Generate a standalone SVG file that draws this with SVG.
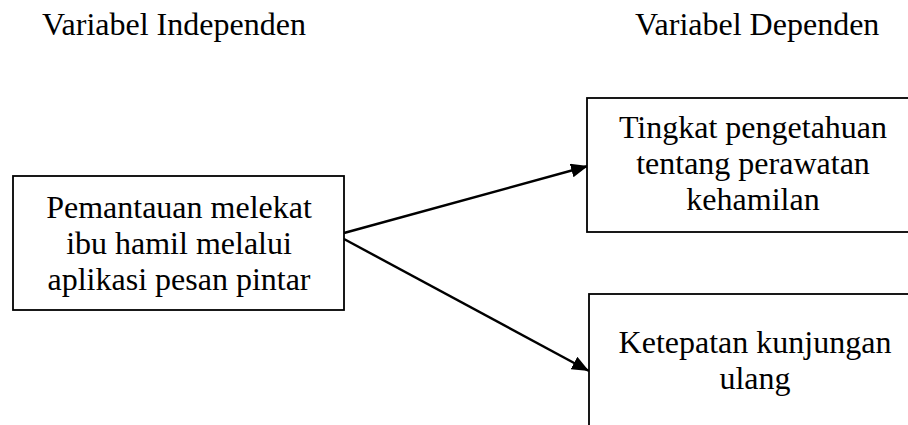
<svg xmlns="http://www.w3.org/2000/svg" width="908" height="425" viewBox="0 0 908 425">
  <style>
    text { font-family: 'Liberation Serif', 'Times New Roman', Times, 'DejaVu Serif', serif; font-size: 32px; fill: #000; }
    .c { text-anchor: middle; }
    .box { fill: #fff; stroke: #000; stroke-width: 1.8; }
    .edge { stroke: #000; stroke-width: 2.4; fill: none; }
  </style>
  <defs>
    <marker id="arrow" markerUnits="userSpaceOnUse" markerWidth="18" markerHeight="14" refX="17" refY="7" orient="auto">
      <path d="M0,0 L17,7 L0,14 z" fill="#000"/>
    </marker>
  </defs>
  <rect width="908" height="425" fill="#fff"/>
  <g id="titles">
    <text x="42" y="35">Variabel Independen</text>
    <text x="635" y="35">Variabel Dependen</text>
  </g>
  <g id="connectors">
    <line class="edge" x1="344" y1="233" x2="588" y2="166" marker-end="url(#arrow)"/>
    <line class="edge" x1="344" y1="239" x2="589" y2="371" marker-end="url(#arrow)"/>
  </g>
  <g id="node-independen">
    <rect class="box" x="13" y="176" width="331" height="134"/>
    <text class="c" x="179" y="218">Pemantauan melekat</text>
    <text class="c" x="179" y="254">ibu hamil melalui</text>
    <text class="c" x="179" y="290">aplikasi pesan pintar</text>
  </g>
  <g id="node-pengetahuan">
    <rect class="box" x="587" y="98" width="332" height="134"/>
    <text class="c" x="753" y="138">Tingkat pengetahuan</text>
    <text class="c" x="753" y="174">tentang perawatan</text>
    <text class="c" x="753" y="210">kehamilan</text>
  </g>
  <g id="node-kunjungan">
    <rect class="box" x="589" y="294" width="332" height="200"/>
    <text class="c" x="755" y="353">Ketepatan kunjungan</text>
    <text class="c" x="755" y="389">ulang</text>
  </g>
</svg>
